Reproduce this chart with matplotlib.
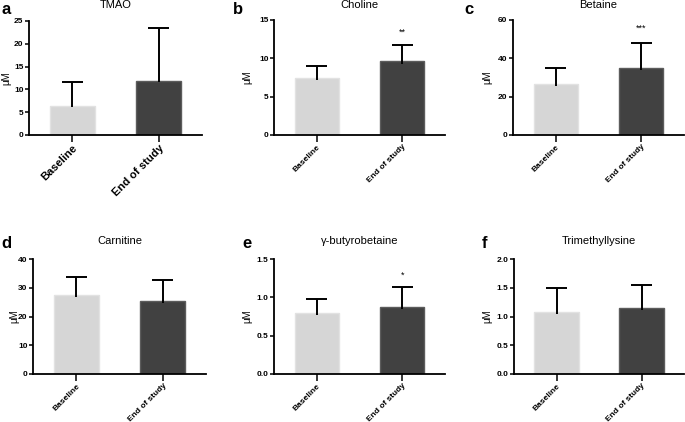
import matplotlib
matplotlib.use('Agg')
import matplotlib.pyplot as plt

plt.rcParams['font.family'] = ['Liberation Sans', 'DejaVu Sans']

GROUPS = ['Baseline', 'End of study']
LETTERS = ['a', 'b', 'c', 'd', 'e', 'f']
TITLES = ['TMAO', 'Choline', 'Betaine', 'Carnitine', 'γ-butyrobetaine', 'Trimethyllysine']
MEANS = [[6.3, 11.9], [7.4, 9.6], [26.4, 35.0], [27.5, 25.4], [0.79, 0.88], [1.08, 1.14]]
SDS = [[5.4, 11.6], [1.6, 2.15], [8.4, 13.0], [6.3, 7.4], [0.19, 0.25], [0.42, 0.41]]
STARS = ['', '**', '***', '', '*', '']
STAR_Y = [None, 13.4, 55.5, None, 1.29, None]
YMAX = [25, 15, 60, 40, 1.5, 2.0]
YTICKS = [[0, 5, 10, 15, 20, 25], [0, 5, 10, 15], [0, 20, 40, 60],
          [0, 10, 20, 30, 40], [0, 0.5, 1.0, 1.5], [0, 0.5, 1.0, 1.5, 2.0]]
YFMT = ['%d', '%d', '%d', '%d', '%.1f', '%.1f']

FILLS = ['#d6d6d6', '#414141']
EDGES = ['#e2e2e2', '#5c5c5c']

W, H = 685, 422
# axes boxes in pixels: left, right, top, bottom
BOXES = [(29, 202, 21, 135), (274, 445, 20, 135), (513, 684, 20, 135),
         (33, 206, 259, 374), (274, 445, 259, 374), (514, 684, 259, 374)]
YLABEL_X = [11, 252, 492, 19, 252, 492]
LETTER_XY = [(1, 10), (233, 10), (464, 10), (1, 244), (242, 244), (482, 244)]


def main():
    fig = plt.figure(figsize=(W / 100, H / 100), dpi=100)
    for i, (l, r, t, b) in enumerate(BOXES):
        ax = fig.add_axes([l / W, 1 - b / H, (r - l) / W, (b - t) / H])
        x = [0, 1]
        ax.bar(x, MEANS[i], width=0.52, color=FILLS, edgecolor=EDGES, linewidth=1, zorder=2)
        tops = [m + s for m, s in zip(MEANS[i], SDS[i])]
        ax.vlines(x, [m * 0.97 for m in MEANS[i]], tops, color='black', linewidth=1.4, zorder=3)
        ax.hlines(tops, [v - 0.12 for v in x], [v + 0.12 for v in x], color='black',
                  linewidth=1.4, zorder=3)
        if STARS[i]:
            ax.text(1, STAR_Y[i], STARS[i], ha='center', va='center', fontsize=6.5)
        ax.set_xlim(-0.5, 1.5)
        ax.set_ylim(0, YMAX[i])
        ax.set_yticks(YTICKS[i])
        ax.set_yticklabels([YFMT[i] % v for v in YTICKS[i]], fontsize=6, fontweight='bold')
        ax.set_xticks(x)
        xfs = 8 if i == 0 else 6
        ax.set_xticklabels(GROUPS, rotation=45, ha='right', rotation_mode='anchor',
                           fontsize=xfs, fontweight='bold')
        ax.tick_params(axis='y', length=3, width=1.1, pad=1)
        ax.tick_params(axis='x', length=5, width=1.1, pad=1)
        for s in ['top', 'right']:
            ax.spines[s].set_visible(False)
        for s in ['left', 'bottom']:
            ax.spines[s].set_linewidth(1.3)
        ax.set_ylabel('μM', fontsize=7)
        ax.yaxis.set_label_coords((YLABEL_X[i] - l) / (r - l), 0.5)
        ax.set_title(TITLES[i], fontsize=8, pad=9 if i < 3 else 11)
        lx, ly = LETTER_XY[i]
        fig.text(lx / W, 1 - ly / H, LETTERS[i], fontsize=12, fontweight='bold',
                 ha='left', va='center')
    fig.savefig('out.png', dpi=100)


if __name__ == '__main__':
    main()
